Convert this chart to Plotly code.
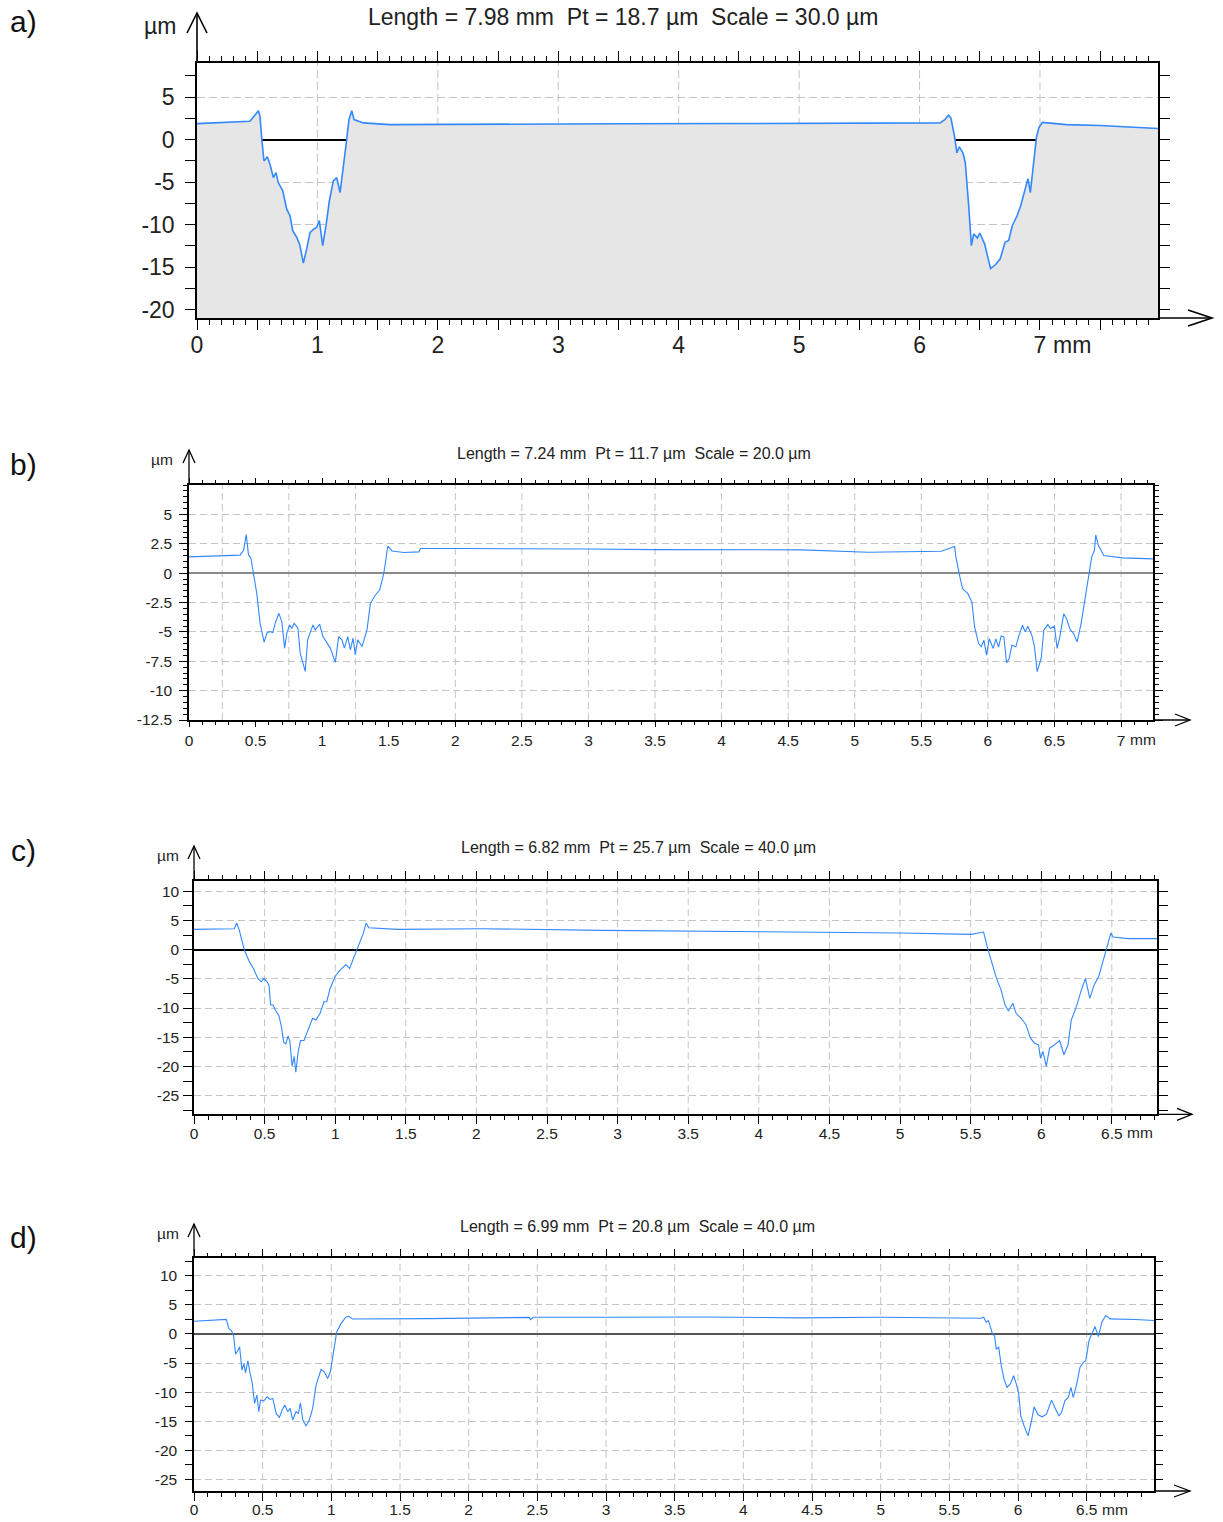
import plotly.graph_objects as go

W, H = 1223, 1522

# ---------------- data ----------------
a_x = [0, 0.44, 0.51, 0.523, 0.537, 0.556, 0.584, 0.606, 0.634, 0.656, 0.675, 0.712, 0.745, 0.772, 0.795,
       0.828, 0.855, 0.883, 0.911, 0.939, 0.972, 0.994, 1.016, 1.044, 1.071, 1.099, 1.132, 1.160, 1.188,
       1.221, 1.243, 1.262, 1.285, 1.304, 1.381, 1.603, 2.5, 3.5, 4.5, 5.5, 6.17, 6.21, 6.24, 6.26, 6.29,
       6.31, 6.33, 6.36, 6.38, 6.41, 6.43, 6.45, 6.48, 6.50, 6.54, 6.57, 6.59, 6.63, 6.67, 6.71, 6.74,
       6.77, 6.81, 6.84, 6.87, 6.90, 6.92, 6.95, 6.97, 6.99, 7.02, 7.22, 7.50, 7.98]
a_y = [1.87, 2.14, 3.39, 2.73, 0.2, -2.53, -2.03, -2.92, -4.48, -3.9, -5.07, -6.04, -8.19, -8.97, -10.72,
       -11.5, -12.48, -14.54, -12.87, -10.92, -10.53, -10.33, -9.55, -12.48, -10.14, -7.21, -4.87, -4.48, -6.24,
       -2.73, 0, 2.34, 3.39, 2.34, 1.95, 1.75, 1.82, 1.85, 1.88, 1.9, 1.95, 2.34, 2.85, 2.53, 0.39,
       -1.56, -0.86, -1.56, -2.73, -8.19, -12.48, -11.1, -11.6, -11.0, -12.28, -14.04, -15.2, -14.74, -14.04, -12.09, -11.89,
       -10.14, -8.97, -7.8, -6.24, -4.6, -6.24, -2.34, 0.2, 1.37, 2.02, 1.75, 1.64, 1.29]

b_x = [0, 0.2, 0.384, 0.41, 0.43, 0.447, 0.464, 0.484, 0.509, 0.534, 0.564, 0.585, 0.605, 0.63, 0.647,
       0.675, 0.697, 0.718, 0.735, 0.755, 0.773, 0.79, 0.818, 0.835, 0.86, 0.873, 0.891, 0.911, 0.931,
       0.948, 0.981, 1.006, 1.036, 1.061, 1.099, 1.124, 1.149, 1.167, 1.192, 1.212, 1.232, 1.249, 1.267,
       1.3, 1.337, 1.362, 1.4, 1.432, 1.463, 1.493, 1.525, 1.613, 1.726, 1.739, 2.065, 2.57, 3.0, 3.5,
       4.0, 4.6, 5.1, 5.65, 5.75, 5.76, 5.79, 5.81, 5.85, 5.88, 5.90, 5.93, 5.95, 5.97, 5.99, 6.01,
       6.04, 6.06, 6.08, 6.10, 6.12, 6.14, 6.16, 6.18, 6.21, 6.23, 6.26, 6.28, 6.30, 6.33, 6.35, 6.37,
       6.40, 6.42, 6.45, 6.47, 6.50, 6.52, 6.54, 6.57, 6.59, 6.62, 6.64, 6.67, 6.70, 6.73, 6.76, 6.78,
       6.80, 6.81, 6.83, 6.87, 7.01, 7.24]
b_y = [1.38, 1.45, 1.53, 1.95, 3.28, 1.53, 1.33, -0.03, -1.72, -4.27, -5.88, -5.11, -4.97, -5.06, -4.27,
       -3.42, -4.12, -6.38, -5.11, -4.41, -4.69, -4.27, -4.69, -6.81, -7.94, -8.36, -5.68, -5.11, -4.41,
       -4.83, -4.35, -5.4, -5.96, -6.38, -7.6, -5.4, -5.68, -6.38, -5.4, -6.53, -5.54, -6.95, -5.68,
       -6.24, -4.83, -2.57, -1.86, -1.44, -0.03, 2.29, 1.89, 1.75, 1.81, 2.09, 2.09, 2.1, 2.05, 2.0,
       1.98, 1.98, 1.78, 1.86, 2.26, 1.36, -0.34, -1.33, -1.75, -2.46, -4.58, -5.99, -6.27, -5.71, -6.98, -5.59,
       -6.41, -5.59, -6.3, -5.34, -5.42, -7.63, -7.26, -6.13, -6.27, -5.42, -4.44, -5.0, -4.52, -5.28, -6.27, -8.39,
       -7.26, -4.86, -4.38, -4.72, -4.52, -6.41, -5.42, -3.45, -3.87, -4.86, -5.06, -5.85, -4.29, -2.03, -0.06, 1.41,
       1.92, 3.25, 2.34, 1.5, 1.3, 1.21]

c_x = [0, 0.286, 0.302, 0.321, 0.357, 0.393, 0.421, 0.452, 0.476, 0.495, 0.517, 0.531, 0.543, 0.56, 0.576,
       0.602, 0.619, 0.636, 0.65, 0.667, 0.679, 0.695, 0.71, 0.721, 0.738, 0.755, 0.779, 0.81, 0.84,
       0.864, 0.893, 0.921, 0.94, 0.964, 1.0, 1.03, 1.06, 1.076, 1.102, 1.131, 1.167, 1.198, 1.219,
       1.238, 1.44, 2.036, 2.893, 3.5, 4.294, 5.005, 5.502, 5.592, 5.621, 5.656, 5.68, 5.716, 5.744,
       5.768, 5.799, 5.822, 5.858, 5.893, 5.924, 5.953, 5.981, 5.995, 6.012, 6.036, 6.059, 6.095, 6.13,
       6.161, 6.19, 6.213, 6.249, 6.284, 6.313, 6.344, 6.374, 6.408, 6.438, 6.469, 6.493, 6.509, 6.616, 6.82]
c_y = [3.47, 3.58, 4.55, 3.3, -0.11, -2.1, -3.24, -4.94, -5.51, -4.94, -5.51, -6.08, -9.49, -9.49, -10.34,
       -11.36, -13.18, -15.9, -16.14, -14.77, -15.74, -20.0, -18.3, -21.0, -17.44, -15.57, -15.57, -13.47, -11.76,
       -12.05, -10.9, -8.92, -8.92, -6.65, -4.55, -3.64, -2.95, -2.56, -3.24, -1.36, 0.74, 2.73, 4.55,
       3.75, 3.47, 3.58, 3.3, 3.2, 3.01, 2.84, 2.61, 3.01, 0.17, -2.95, -4.66, -6.93, -9.49,
       -10.51, -9.2, -10.9, -11.76, -12.9, -15.17, -16.02, -16.3, -18.58, -17.44, -20.0, -16.88, -16.3, -15.57,
       -18.0, -16.3, -12.05, -9.77, -6.93, -4.94, -8.35, -6.08, -4.55, -1.82, 0.74, 2.84, 2.16, 1.88, 1.88]

d_x = [0, 0.235, 0.254, 0.271, 0.288, 0.303, 0.32, 0.332, 0.349, 0.363, 0.375, 0.392, 0.409, 0.424, 0.441,
       0.458, 0.472, 0.484, 0.508, 0.533, 0.554, 0.574, 0.598, 0.622, 0.642, 0.661, 0.683, 0.7, 0.719,
       0.743, 0.76, 0.775, 0.792, 0.816, 0.84, 0.864, 0.889, 0.925, 0.949, 0.973, 0.993, 1.015, 1.039,
       1.07, 1.107, 1.126, 1.155, 1.712, 2.44, 2.45, 2.47, 2.96, 3.7, 4.415, 5.0, 5.73, 5.75, 5.768,
       5.785, 5.81, 5.83, 5.841, 5.859, 5.878, 5.898, 5.92, 5.946, 5.968, 5.988, 6.005, 6.02, 6.044,
       6.073, 6.098, 6.117, 6.146, 6.176, 6.207, 6.244, 6.268, 6.298, 6.317, 6.341, 6.366, 6.385, 6.402,
       6.427, 6.451, 6.476, 6.493, 6.517, 6.537, 6.561, 6.585, 6.61, 6.639, 6.671, 6.854, 6.99]
d_y = [2.17, 2.51, 0.91, 0.63, -0.23, -3.49, -2.8, -2.23, -6.23, -5.09, -6.69, -4.63, -6.8, -8.51, -11.94,
       -10.51, -13.37, -11.37, -11.49, -10.8, -11.26, -11.09, -13.66, -14.34, -13.09, -12.23, -13.37, -12.8, -14.8,
       -13.37, -13.66, -11.83, -14.8, -15.83, -14.8, -12.8, -8.8, -6.11, -6.51, -7.66, -6.51, -3.37, 0.34,
       1.77, 2.91, 3.03, 2.57, 2.63, 2.85, 2.47, 2.87, 2.87, 2.9, 2.76, 2.87, 2.70, 2.87, 2.01,
       2.3, 0.29, -0.46, -2.59, -2.3, -5.46, -7.76, -9.2, -8.51, -7.18, -8.62, -10.34, -14.08, -15.8,
       -17.53, -14.94, -12.53, -13.91, -14.25, -13.79, -11.38, -12.64, -14.08, -13.51, -11.49, -10.92, -9.2, -10.92,
       -8.62, -5.75, -4.89, -4.6, -1.15, 0.0, 1.26, -0.46, 2.01, 3.16, 2.59, 2.47, 2.3]

for _x, _y in [(a_x, a_y), (b_x, b_y), (c_x, c_y), (d_x, d_y)]:
    assert len(_x) == len(_y), (len(_x), len(_y))

titles = ["Length = 7.98 mm  Pt = 18.7 µm  Scale = 30.0 µm",
          "Length = 7.24 mm  Pt = 11.7 µm  Scale = 20.0 µm",
          "Length = 6.82 mm  Pt = 25.7 µm  Scale = 40.0 µm",
          "Length = 6.99 mm  Pt = 20.8 µm  Scale = 40.0 µm"]
letters = ["a)", "b)", "c)", "d)"]

# axis extents / tick values
a_xrange, a_yrange = [0, 7.98], [-21, 9]
b_xrange, b_yrange = [0, 7.24], [-12.5, 7.5]
c_xrange, c_yrange = [0, 6.82], [-28.2, 11.8]
d_xrange, d_yrange = [0, 6.99], [-27, 13]

a_xticks = [0, 0.5, 1, 1.5, 2, 2.5, 3, 3.5, 4, 4.5, 5, 5.5, 6, 6.5, 7, 7.5]
a_xlabels = ["0", "", "1", "", "2", "", "3", "", "4", "", "5", "", "6", "", "7", ""]
a_xgrid = [1, 2, 3, 4, 5, 6, 7]
a_yticks = [-20, -15, -10, -5, 0, 5]
a_ylabels = ["-20", "-15", "-10", "-5", "0", "5"]

b_xticks = [0, 0.5, 1, 1.5, 2, 2.5, 3, 3.5, 4, 4.5, 5, 5.5, 6, 6.5, 7]
b_xlabels = ["0", "0.5", "1", "1.5", "2", "2.5", "3", "3.5", "4", "4.5", "5", "5.5", "6", "6.5", "7"]
b_xgrid = [0.25, 0.75, 1.25, 2, 2.5, 3, 3.5, 4, 4.5, 5, 5.5, 6, 6.5, 7]
b_yticks = [-12.5, -10, -7.5, -5, -2.5, 0, 2.5, 5]
b_ylabels = ["-12.5", "-10", "-7.5", "-5", "-2.5", "0", "2.5", "5"]

c_xticks = [0, 0.5, 1, 1.5, 2, 2.5, 3, 3.5, 4, 4.5, 5, 5.5, 6, 6.5]
c_xlabels = ["0", "0.5", "1", "1.5", "2", "2.5", "3", "3.5", "4", "4.5", "5", "5.5", "6", "6.5"]
c_xgrid = [0.5, 1, 1.5, 2, 2.5, 3, 3.5, 4, 4.5, 5, 5.5, 6, 6.5]
c_yticks = [-25, -20, -15, -10, -5, 0, 5, 10]
c_ylabels = ["-25", "-20", "-15", "-10", "-5", "0", "5", "10"]

d_xticks = c_xticks
d_xlabels = c_xlabels
d_xgrid = c_xgrid
d_yticks = c_yticks
d_ylabels = c_ylabels

# ---------------- layout / style ----------------
FONT = "Liberation Sans, Arial, Helvetica, sans-serif"
BLUE = "#3388ff"
GRID = "#c4c4c4"

def fx(p):
    return p / W

def fy(p):
    return 1 - p / H

panels = [
    dict(x=a_x, y=a_y, xr=a_xrange, yr=a_yrange, xt=a_xticks, xl=a_xlabels, xg=a_xgrid,
         yt=a_yticks, yl=a_ylabels, box=(197, 1158, 63, 318), fs=23, fill=True, lw=1.6,
         xtl=10, xml=5, ytl=10, ymin=2.5, yml=10, zc="#000000", dash="8px,4px",
         title_xy=(623, 17), tfs=23, um_xy=(160, 26), let_xy=(23.5, 22),
         yarrow=(63, 13, 10, 20), xarrow=(1212, 24, 8), alw=1.6, xlab_y=346, ylab_pad=6, xlab_pad=-4),
    dict(x=b_x, y=b_y, xr=b_xrange, yr=b_yrange, xt=b_xticks, xl=b_xlabels, xg=b_xgrid,
         yt=b_yticks, yl=b_ylabels, box=(189, 1153, 485, 720), fs=15.5, fill=False, lw=1.1,
         xtl=5, xml=3, ytl=8, ymin=0.5, yml=4, zc="#8a8a8a", dash="7px,4px",
         title_xy=(634, 453), tfs=16, um_xy=(162, 459), let_xy=(23.5, 465),
         yarrow=(485, 450, 6, 13), xarrow=(1190, 15, 6), alw=1.3, xlab_y=740, ylab_pad=4, xlab_pad=1),
    dict(x=c_x, y=c_y, xr=c_xrange, yr=c_yrange, xt=c_xticks, xl=c_xlabels, xg=c_xgrid,
         yt=c_yticks, yl=c_ylabels, box=(194, 1157, 880.7, 1114.3), fs=15.5, fill=False, lw=1.1,
         xtl=8, xml=4, ytl=9, ymin=2.5, yml=9, zc="#000000", dash="7px,4px",
         title_xy=(638, 848), tfs=16, um_xy=(168, 855), let_xy=(23.5, 850),
         yarrow=(880.7, 846, 6, 13), xarrow=(1192, 15, 6), alw=1.3, xlab_y=1133, ylab_pad=1, xlab_pad=-4),
    dict(x=d_x, y=d_y, xr=d_xrange, yr=d_yrange, xt=d_xticks, xl=d_xlabels, xg=d_xgrid,
         yt=d_yticks, yl=d_ylabels, box=(194, 1154, 1258.3, 1491), fs=15.5, fill=False, lw=1.1,
         xtl=8, xml=4, ytl=7, ymin=2.5, yml=7, zc="#555555", dash="7px,4px",
         title_xy=(637, 1226), tfs=16, um_xy=(168, 1233), let_xy=(23.5, 1237),
         yarrow=(1258.3, 1224, 6, 13), xarrow=(1190, 16, 6), alw=1.3, xlab_y=1510, ylab_pad=5, xlab_pad=-4),
]

fig = go.Figure()
shapes = []
annotations = []
layout = dict(width=W, height=H, margin=dict(l=0, r=0, t=0, b=0, pad=0), showlegend=False,
              paper_bgcolor="white", plot_bgcolor="white", font=dict(family=FONT, color="#222222"))

for i, p in enumerate(panels, start=1):
    xa = "x" if i == 1 else f"x{i}"
    ya = "y" if i == 1 else f"y{i}"
    xkey = "xaxis" if i == 1 else f"xaxis{i}"
    ykey = "yaxis" if i == 1 else f"yaxis{i}"
    x0, x1, y0, y1 = p["box"]

    if p["fill"]:
        fig.add_trace(go.Scatter(x=[p["x"][0], p["x"][-1]], y=[p["yr"][0], p["yr"][0]],
                                 xaxis=xa, yaxis=ya, mode="lines", line=dict(width=0),
                                 hoverinfo="skip"))
        fig.add_trace(go.Scatter(x=p["x"], y=p["y"], xaxis=xa, yaxis=ya, mode="lines",
                                 line=dict(color=BLUE, width=p["lw"]), fill="tonexty",
                                 fillcolor="#e6e6e6"))
    else:
        fig.add_trace(go.Scatter(x=p["x"], y=p["y"], xaxis=xa, yaxis=ya, mode="lines",
                                 line=dict(color=BLUE, width=p["lw"])))

    layout[xkey] = dict(domain=[fx(x0), fx(x1)], range=p["xr"], anchor=ya, automargin=False,
                        tickmode="array", tickvals=p["xt"], ticktext=p["xl"],
                        ticks="outside", ticklen=p["xtl"], tickwidth=1, tickcolor="#000",
                        showline=True, linecolor="#000", linewidth=1.5, mirror="ticks",
                        showgrid=False, zeroline=False, ticklabelstandoff=p["xlab_pad"],
                        tickfont=dict(size=p["fs"], family=FONT, color="#222"),
                        minor=dict(tickmode="linear", tick0=0, dtick=0.1, ticks="outside",
                                   ticklen=p["xml"], tickcolor="#000", tickwidth=1, showgrid=False),
                        fixedrange=True)
    layout[ykey] = dict(domain=[fy(y1), fy(y0)], range=p["yr"], anchor=xa, automargin=False,
                        tickmode="array", tickvals=p["yt"], ticktext=p["yl"],
                        ticks="outside", ticklen=p["ytl"], tickwidth=1, tickcolor="#000",
                        showline=True, linecolor="#000", linewidth=1.5, mirror="ticks",
                        showgrid=True, gridcolor=GRID, griddash=p["dash"], gridwidth=1,
                        zeroline=True, zerolinecolor=p["zc"], zerolinewidth=1.5,
                        ticklabelstandoff=p["ylab_pad"],
                        tickfont=dict(size=p["fs"], family=FONT, color="#222"),
                        minor=dict(tickmode="linear", tick0=0, dtick=p["ymin"], ticks="outside",
                                   ticklen=p["yml"], tickcolor="#000", tickwidth=1, showgrid=False),
                        fixedrange=True)

    # vertical dashed grid lines
    for gx in p["xg"]:
        shapes.append(dict(type="line", xref=xa, yref=f"{ya} domain", x0=gx, x1=gx, y0=0, y1=1,
                           line=dict(color=GRID, width=1, dash=p["dash"]), layer="below"))

    # axis arrows
    ytop_box, ytip, half, armdy = p["yarrow"]
    shapes.append(dict(type="line", xref="paper", yref="paper", x0=fx(x0), x1=fx(x0),
                       y0=fy(ytop_box), y1=fy(ytip), line=dict(color="#000", width=p["alw"])))
    shapes.append(dict(type="path", xref="paper", yref="paper",
                       path=f"M {fx(x0 - half)},{fy(ytip + armdy)} L {fx(x0)},{fy(ytip)} L {fx(x0 + half)},{fy(ytip + armdy)}",
                       line=dict(color="#000", width=p["alw"])))
    xtip, armdx, halfy = p["xarrow"]
    shapes.append(dict(type="line", xref="paper", yref="paper", x0=fx(x1), x1=fx(xtip),
                       y0=fy(y1), y1=fy(y1), line=dict(color="#000", width=p["alw"])))
    shapes.append(dict(type="path", xref="paper", yref="paper",
                       path=f"M {fx(xtip - armdx)},{fy(y1 - halfy)} L {fx(xtip)},{fy(y1)} L {fx(xtip - armdx)},{fy(y1 + halfy)}",
                       line=dict(color="#000", width=p["alw"])))

    # texts
    tx, ty = p["title_xy"]
    annotations.append(dict(text=titles[i - 1].replace("  ", "\u00a0\u00a0"), xref="paper", yref="paper",
                            x=fx(tx), y=fy(ty), showarrow=False, xanchor="center", yanchor="middle",
                            font=dict(size=p["tfs"], family=FONT, color="#222")))
    ux, uy = p["um_xy"]
    annotations.append(dict(text="µm", xref="paper", yref="paper", x=fx(ux), y=fy(uy), showarrow=False,
                            xanchor="center", yanchor="middle", font=dict(size=p["fs"], family=FONT, color="#222")))
    lx, ly = p["let_xy"]
    annotations.append(dict(text=letters[i - 1], xref="paper", yref="paper", x=fx(lx), y=fy(ly),
                            showarrow=False, xanchor="center", yanchor="middle",
                            font=dict(size=30, family=FONT, color="#111")))
    # unit after last labelled x tick
    last_lab = [t for t, l in zip(p["xt"], p["xl"]) if l][-1]
    last_txt = [l for l in p["xl"] if l][-1]
    char_w = {"0": 0.556, "1": 0.556, "2": 0.556, "3": 0.556, "4": 0.556, "5": 0.556,
              "6": 0.556, "7": 0.556, "8": 0.556, "9": 0.556, ".": 0.278}
    half_w = sum(char_w.get(ch, 0.556) for ch in last_txt) * p["fs"] / 2
    annotations.append(dict(text="mm", xref=xa, yref="paper", x=last_lab, y=fy(p["xlab_y"] - 1),
                            showarrow=False, xanchor="left", yanchor="middle",
                            xshift=half_w + 0.278 * p["fs"] - 1, borderpad=0,
                            font=dict(size=p["fs"], family=FONT, color="#222")))

layout["shapes"] = shapes
layout["annotations"] = annotations
fig.update_layout(**layout)
fig.write_html("out.html", config={"displayModeBar": False},
               post_script="document.body.style.margin='0';document.body.style.overflow='hidden';")
